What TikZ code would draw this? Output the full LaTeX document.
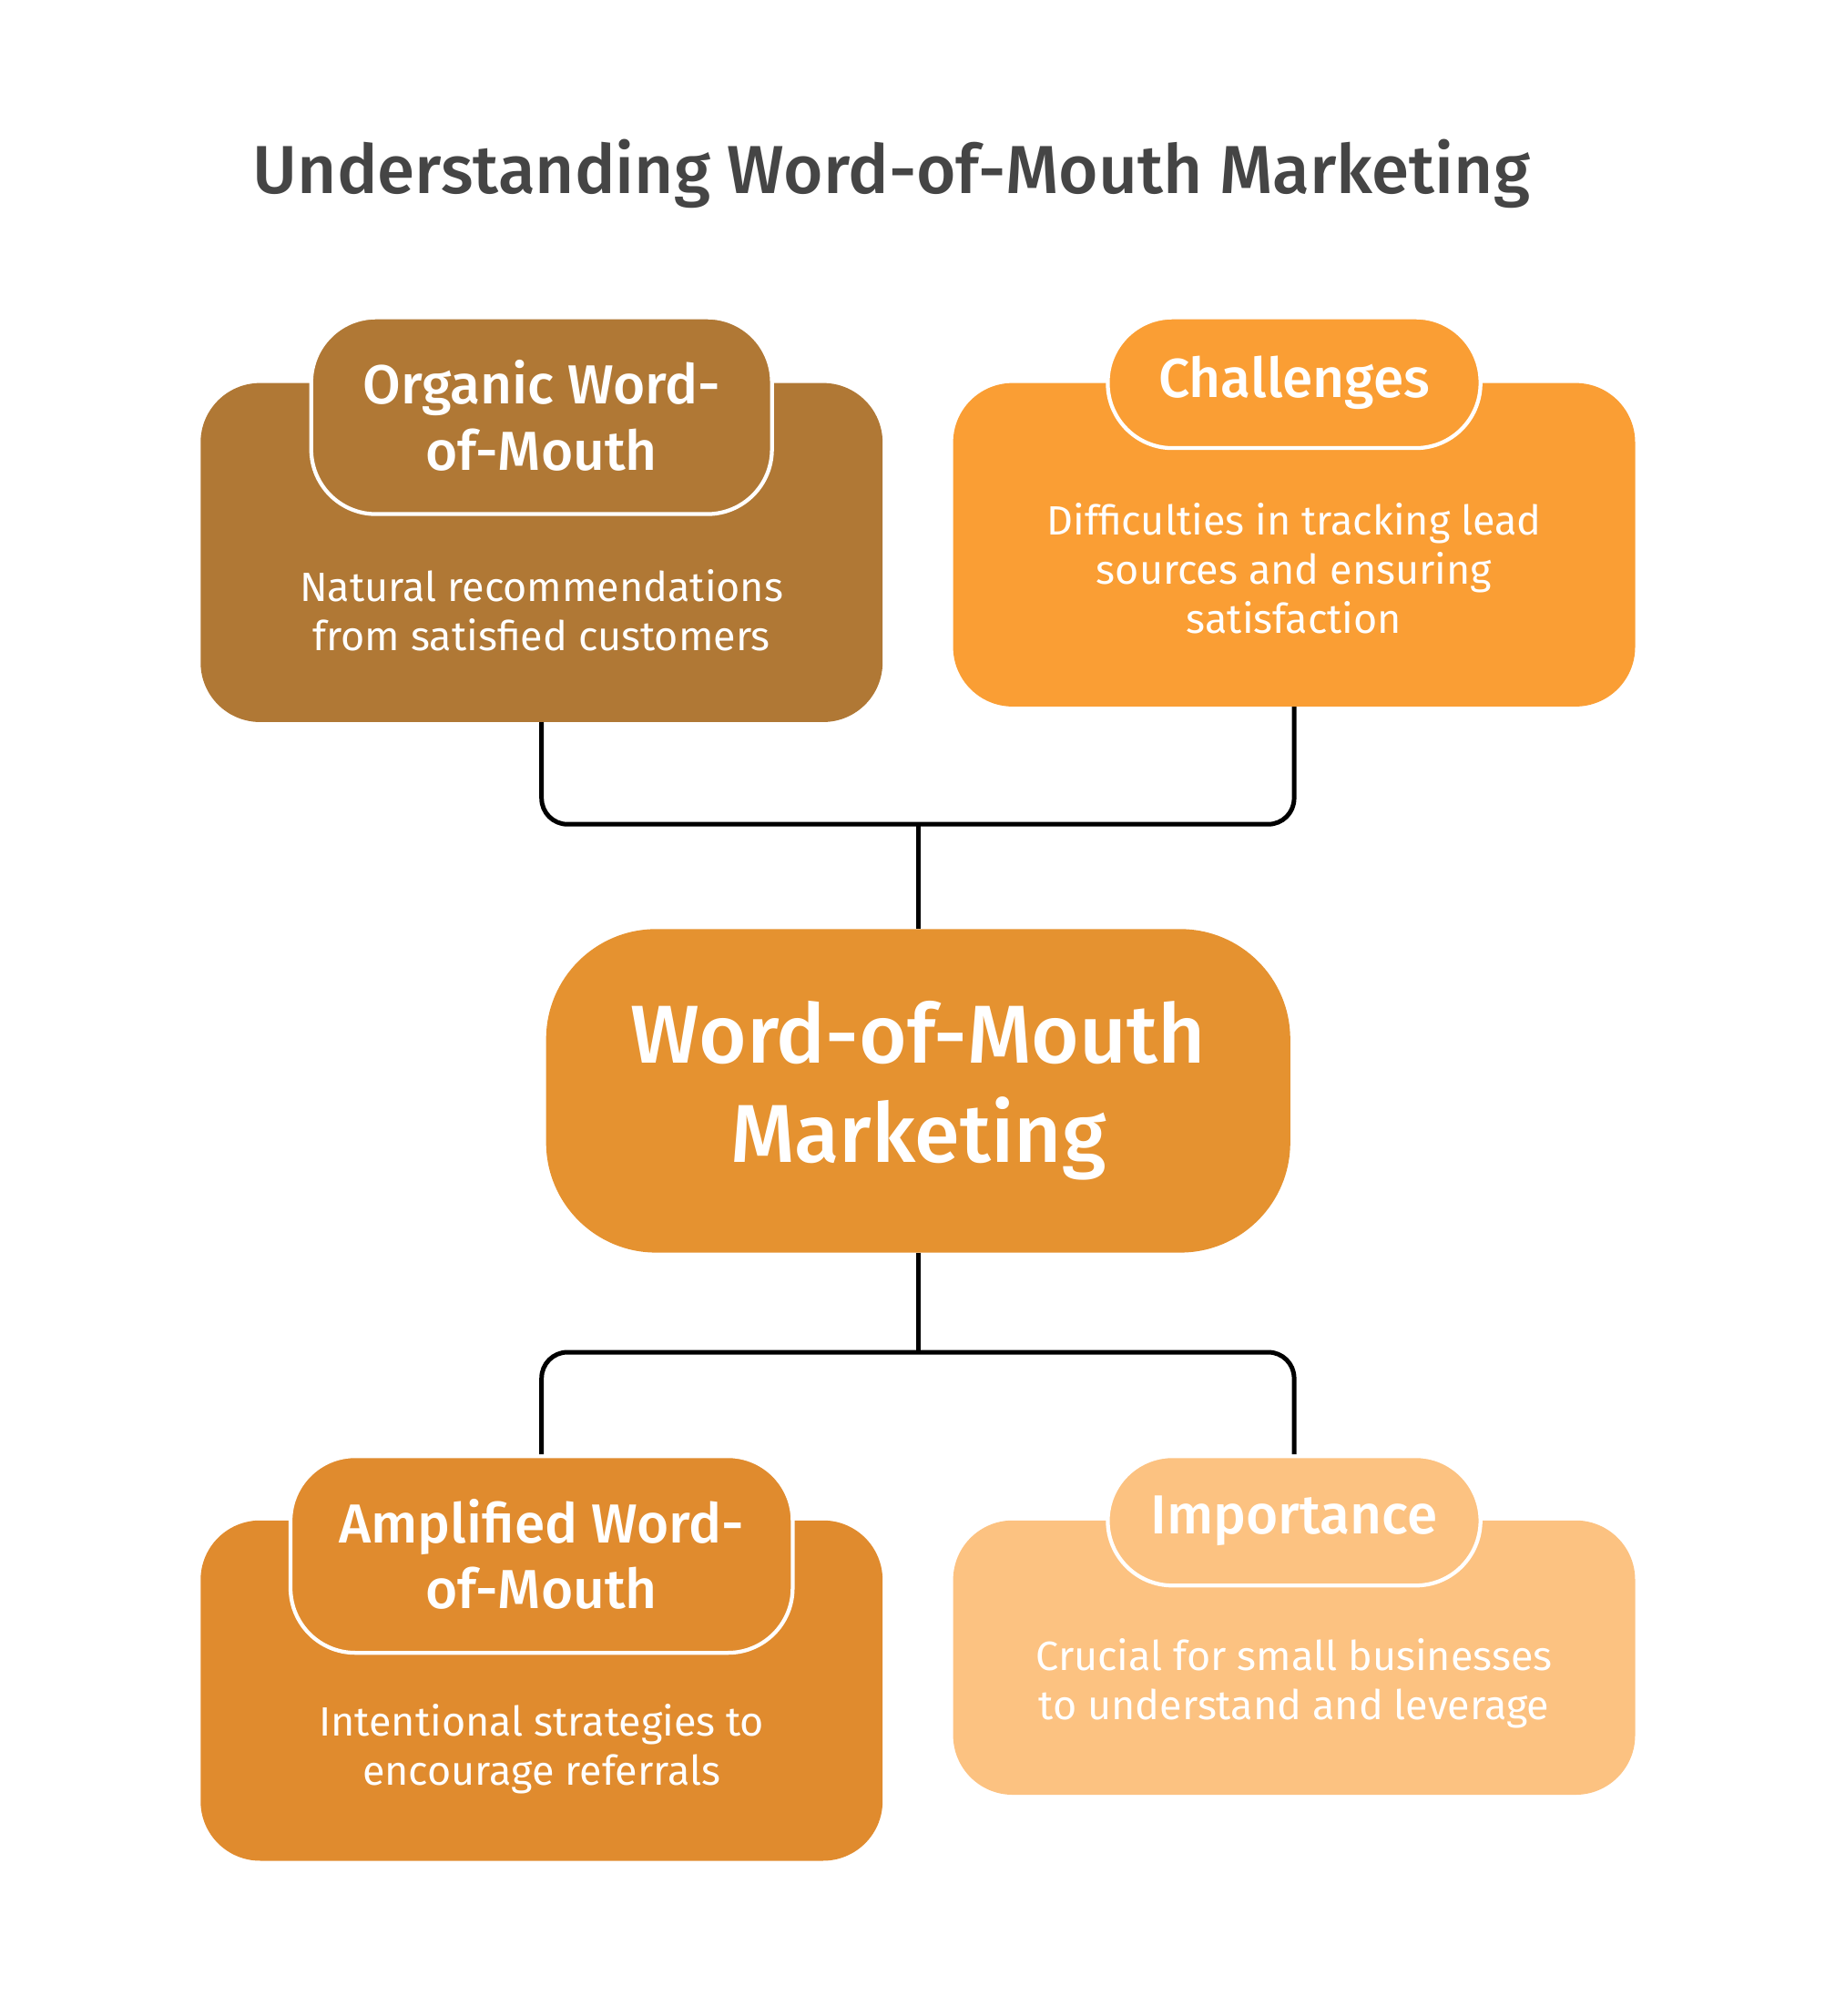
\documentclass[tikz,border=0pt]{standalone}
\usepackage{fontspec}
\setmainfont{Fira Sans}
\newfontfamily\medfont{Fira Sans Medium}
\usetikzlibrary{calc}
\definecolor{titlegray}{HTML}{454545}
\definecolor{organic}{HTML}{B07835}
\definecolor{challenge}{HTML}{FA9E34}
\definecolor{wommain}{HTML}{E59230}
\definecolor{amplified}{HTML}{E08B2E}
\definecolor{importance}{HTML}{FCC281}

\begin{document}
\begin{tikzpicture}[x=1pt,y=-1pt]
  \tikzstyle{box}=[rectangle,rounded corners=46pt,inner sep=0pt,minimum width=527pt]
  \tikzstyle{tab}=[rectangle,rounded corners=50pt,inner sep=0pt,draw=white,line width=3pt,
                   text=white,align=center,anchor=north,font=\medfont\fontsize{42.5}{51}\selectfont]
  \tikzstyle{body}=[text=white,align=center,font=\fontsize{31.6}{38}\selectfont]
  \tikzstyle{link}=[line width=3.5pt,rounded corners=20pt]

  \useasboundingbox (0,0) rectangle (1410,1558);
  \node[text=titlegray,font=\medfont\fontsize{52.5}{60}\selectfont] (title) at (689,134)
    {Understanding Word-of-Mouth Marketing};

  % upper row
  \node[box,fill=organic,minimum height=262pt] (org) at (418.5,427) {};
  \node[tab,fill=organic,minimum width=356pt,minimum height=152pt] (orgtab)
    at ([yshift=52pt]org.north) {Organic Word-\\of-Mouth};
  \node[body] (orgtext) at ($(orgtab.south)!.5!(org.south)+(0,-7)$)
    {Natural recommendations\\from satisfied customers};

  \node[box,fill=challenge,minimum height=250pt] (chal) at (1000,421) {};
  \node[tab,fill=challenge,minimum width=288pt,minimum height=101pt] (chaltab)
    at ([yshift=52pt]chal.north) {Challenges};
  \node[body] (chaltext) at ($(chaltab.south)!.5!(chal.south)+(0,-8)$)
    {Difficulties in tracking lead\\sources and ensuring\\satisfaction};

  % centre
  \node[box,fill=wommain,minimum width=575pt,minimum height=250pt,rounded corners=85pt,
        text=white,align=center,font=\medfont\fontsize{63.5}{77}\selectfont] (wom) at (709.5,843)
    {Word-of-Mouth\\Marketing};

  % lower row
  \node[box,fill=amplified,minimum height=263pt] (amp) at (418.5,1306.5) {};
  \node[tab,fill=amplified,minimum width=388pt,minimum height=152pt] (amptab)
    at ([yshift=51pt]amp.north) {Amplified Word-\\of-Mouth};
  \node[body] (amptext) at ($(amptab.south)!.5!(amp.south)+(0,-7)$)
    {Intentional strategies to\\encourage referrals};

  \node[box,fill=importance,minimum height=212pt] (imp) at (1000,1281) {};
  \node[tab,fill=importance,minimum width=288pt,minimum height=100pt] (imptab)
    at ([yshift=51pt]imp.north) {Importance};
  \node[body] (imptext) at ($(imptab.south)!.5!(imp.south)+(0,-6)$)
    {Crucial for small businesses\\to understand and leverage};

  % connectors
  \coordinate (topjoin) at (709.5,637);
  \coordinate (botjoin) at (709.5,1045);
  \draw[link] (org.south) |- (topjoin) -| (chal.south);
  \draw[link] (topjoin) -- (wom.north);
  \draw[link] (wom.south) -- (botjoin);
  \draw[link] (amptab.north) |- (botjoin) -| (imptab.north);
\end{tikzpicture}
\end{document}
